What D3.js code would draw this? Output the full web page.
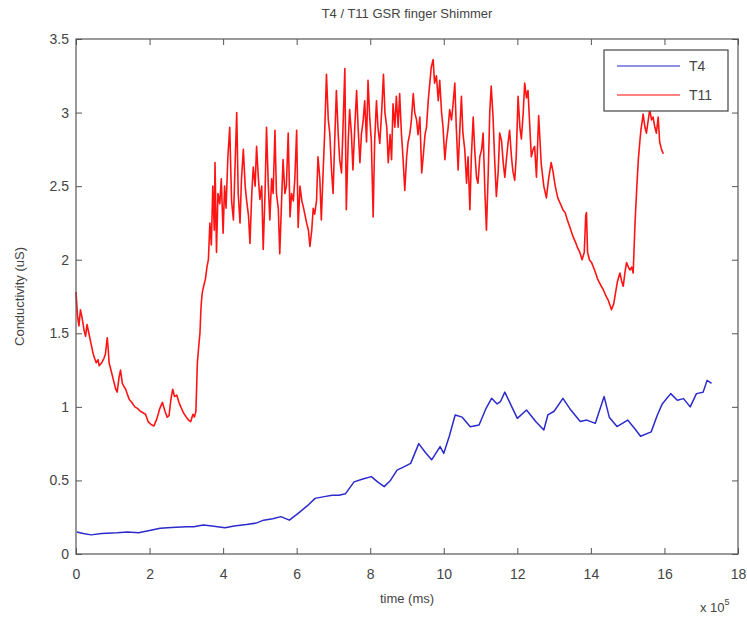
<!DOCTYPE html>
<html>
<head>
<meta charset="utf-8">
<script src="https://cdn.jsdelivr.net/npm/d3@7"></script>
<style>
  body { margin: 0; background: #fff; }
  text { font-family: "Liberation Sans", Arial, sans-serif; fill: #444; }
</style>
</head>
<body>
<div id="chart"></div>
<script>
// time in units of 10^5 ms, conductivity in uS
var t4 = [[0.02,0.15],[0.2,0.14],[0.41,0.13],[0.7,0.14],[1.12,0.145],[1.4,0.15],[1.7,0.145],[2.0,0.16],[2.29,0.175],[2.6,0.18],[3.0,0.186],[3.2,0.185],[3.46,0.197],[3.7,0.19],[4.05,0.179],[4.3,0.19],[4.63,0.2],[4.9,0.21],[5.1,0.23],[5.35,0.24],[5.57,0.254],[5.8,0.23],[6.04,0.276],[6.3,0.33],[6.5,0.378],[6.75,0.39],[6.97,0.4],[7.15,0.4],[7.33,0.41],[7.56,0.49],[7.8,0.51],[8.03,0.526],[8.2,0.49],[8.38,0.458],[8.55,0.5],[8.73,0.57],[8.9,0.59],[9.1,0.616],[9.32,0.75],[9.5,0.69],[9.67,0.64],[9.9,0.73],[10.0,0.684],[10.15,0.8],[10.31,0.945],[10.5,0.93],[10.72,0.865],[10.96,0.877],[11.15,0.99],[11.3,1.058],[11.45,1.02],[11.54,1.035],[11.66,1.1],[11.85,1.0],[12.0,0.922],[12.25,0.979],[12.5,0.9],[12.72,0.843],[12.83,0.945],[13.0,0.97],[13.24,1.058],[13.45,0.98],[13.71,0.9],[13.89,0.91],[14.12,0.888],[14.36,1.07],[14.5,0.93],[14.71,0.866],[15.0,0.91],[15.2,0.85],[15.35,0.8],[15.64,0.83],[15.8,0.94],[15.94,1.02],[16.17,1.09],[16.35,1.045],[16.52,1.056],[16.7,1.0],[16.87,1.09],[17.05,1.1],[17.16,1.18],[17.28,1.16]];

var t11 = [[0,1.78],[0.04,1.62],[0.08,1.55],[0.12,1.66],[0.17,1.6],[0.22,1.52],[0.26,1.48],[0.3,1.56],[0.35,1.5],[0.4,1.44],[0.45,1.38],[0.49,1.34],[0.55,1.3],[0.6,1.32],[0.63,1.28],[0.7,1.3],[0.76,1.33],[0.8,1.36],[0.85,1.47],[0.88,1.38],[0.9,1.3],[0.96,1.24],[1.02,1.18],[1.08,1.12],[1.12,1.1],[1.17,1.2],[1.21,1.25],[1.26,1.16],[1.3,1.14],[1.35,1.12],[1.39,1.09],[1.45,1.05],[1.52,1.03],[1.6,1.0],[1.67,0.99],[1.75,0.97],[1.82,0.96],[1.89,0.95],[1.96,0.9],[2.04,0.88],[2.12,0.87],[2.2,0.92],[2.28,0.99],[2.35,1.03],[2.42,0.97],[2.48,0.93],[2.53,0.94],[2.58,1.05],[2.63,1.12],[2.68,1.07],[2.74,1.08],[2.8,1.03],[2.85,1.0],[2.92,0.96],[3.0,0.93],[3.06,0.91],[3.12,0.9],[3.18,0.95],[3.22,0.93],[3.26,0.97],[3.3,1.3],[3.34,1.42],[3.37,1.5],[3.4,1.68],[3.43,1.77],[3.47,1.82],[3.52,1.87],[3.56,1.95],[3.6,2.0],[3.64,2.25],[3.68,2.1],[3.72,2.5],[3.76,2.2],[3.78,2.66],
[3.82,2.05],[3.86,2.45],[3.91,2.38],[3.95,2.55],[4.0,2.18],[4.04,2.5],[4.08,2.35],[4.13,2.7],[4.18,2.9],[4.23,2.4],[4.28,2.27],[4.32,2.6],[4.37,3.0],[4.41,2.45],[4.46,2.25],[4.5,2.55],[4.55,2.75],[4.6,2.5],[4.64,2.4],[4.69,2.3],[4.73,2.11],[4.78,2.45],[4.82,2.63],[4.87,2.5],[4.91,2.77],[4.96,2.55],[5.0,2.41],[5.05,2.5],[5.09,2.07],[5.14,2.45],[5.18,2.9],[5.23,2.5],[5.27,2.27],[5.32,2.55],[5.36,2.45],[5.41,2.88],[5.45,2.45],[5.5,2.35],[5.54,2.04],[5.59,2.4],[5.63,2.68],[5.68,2.45],[5.72,2.5],[5.77,2.86],[5.82,2.29],[5.86,2.45],[5.91,2.4],[5.95,2.55],[6.0,2.88],[6.04,2.22],[6.09,2.5],[6.14,2.4],[6.18,2.36],[6.23,2.3],[6.27,2.25],[6.32,2.2],[6.36,2.09],[6.41,2.2],[6.45,2.35],[6.49,2.31],[6.54,2.4],[6.58,2.7],[6.63,2.55],[6.67,2.27],[6.72,2.6],[6.76,2.85],
[6.81,3.26],[6.86,2.95],[6.9,2.86],[6.95,2.6],[6.99,2.45],[7.04,2.85],[7.08,3.15],[7.13,2.85],[7.17,2.68],[7.22,2.59],[7.26,2.9],[7.31,3.3],[7.35,2.34],[7.4,2.8],[7.44,3.02],[7.49,2.85],[7.53,2.61],[7.58,2.9],[7.63,3.15],[7.67,2.9],[7.72,2.66],[7.76,2.85],[7.81,2.95],[7.85,3.08],[7.9,2.8],[7.94,3.22],[7.99,2.95],[8.03,2.81],[8.08,2.29],[8.12,2.8],[8.17,3.08],[8.21,2.9],[8.26,2.79],[8.31,3.0],[8.36,3.26],[8.4,3.0],[8.45,2.9],[8.49,2.66],[8.54,2.85],[8.58,2.68],[8.62,3.06],[8.67,2.9],[8.71,3.11],[8.76,2.9],[8.8,3.13],[8.85,2.85],[8.89,2.7],[8.94,2.47],[8.99,2.7],[9.03,2.8],[9.08,2.86],[9.12,2.95],[9.17,3.13],[9.21,3.0],[9.26,2.95],[9.3,2.85],[9.35,2.97],[9.4,2.59],[9.44,2.7],[9.49,2.85],[9.53,2.9],[9.58,3.09],[9.62,3.2],[9.66,3.31],[9.71,3.36],[9.75,3.2],[9.8,3.25],[9.85,3.08],[9.89,3.22],[9.94,3.0],[9.98,2.9],
[10.03,2.68],[10.07,2.8],[10.12,2.9],[10.16,3.02],[10.21,2.95],[10.25,3.05],[10.3,3.2],[10.34,2.9],[10.39,2.61],[10.43,2.85],[10.48,3.11],[10.52,2.86],[10.57,2.75],[10.62,2.52],[10.66,2.7],[10.71,2.34],[10.75,2.7],[10.8,2.97],[10.84,2.75],[10.89,2.56],[10.93,2.52],[10.98,2.7],[11.03,2.75],[11.07,2.86],[11.12,2.45],[11.16,2.2],[11.21,2.6],[11.25,3.0],[11.29,3.18],[11.34,2.97],[11.38,2.7],[11.43,2.43],[11.48,2.6],[11.52,2.86],[11.57,2.81],[11.62,2.65],[11.66,2.56],[11.71,2.7],[11.75,2.8],[11.79,2.88],[11.84,2.7],[11.88,2.6],[11.93,2.54],[11.97,2.7],[12.02,3.11],[12.07,2.9],[12.11,2.82],[12.16,3.0],[12.2,3.2],[12.25,3.1],[12.29,3.15],[12.34,2.9],[12.38,2.7],[12.43,2.75],[12.47,2.77],[12.52,2.56],[12.58,2.98],[12.65,2.65],[12.72,2.5],[12.79,2.42],[12.85,2.55],[12.92,2.66],[12.97,2.6],[13.03,2.5],[13.1,2.42],[13.17,2.38],[13.24,2.34],[13.3,2.32],[13.36,2.27],[13.43,2.22],[13.51,2.16],[13.58,2.12],[13.64,2.08],[13.7,2.05],[13.76,2.0],[13.82,2.05],[13.86,2.3],[13.88,2.32],[13.91,2.05],[13.96,2.0],[14.02,1.98],[14.1,1.93],[14.18,1.87],[14.26,1.83],[14.33,1.8],[14.4,1.76],[14.48,1.72],[14.56,1.66],[14.62,1.7],[14.66,1.76],[14.72,1.85],[14.79,1.91],[14.84,1.85],[14.88,1.82],[14.93,1.92],[14.97,1.98],[15.02,1.95],[15.06,1.93],[15.11,1.95],[15.15,1.91],[15.2,2.25],[15.25,2.5],[15.29,2.68],[15.33,2.8],[15.36,2.88],[15.4,2.95],[15.42,2.99],[15.47,2.9],[15.51,2.86],[15.56,2.95],[15.6,3.02],[15.65,2.95],[15.69,2.97],[15.74,2.9],[15.78,2.86],[15.83,2.97],[15.87,2.8],[15.92,2.75],[15.97,2.72]];

var xTicks = [0, 2, 4, 6, 8, 10, 12, 14, 16, 18];
var yTicks = [0, 0.5, 1, 1.5, 2, 2.5, 3, 3.5];
var seriesNames = ["T4", "T11"];
var seriesColors = ["#2b2bcc", "#ff1414"];

var width = 747, height = 619;
var plotLeft = 76, plotRight = 738, plotTop = 39, plotBottom = 554;
var tickLen = 6;

var svg = d3.select("#chart").append("svg")
  .attr("width", width)
  .attr("height", height);

var xScale = d3.scaleLinear().domain([0, 18]).range([plotLeft, plotRight]);
var yScale = d3.scaleLinear().domain([0, 3.5]).range([plotBottom, plotTop]);

/* lines */
var line = d3.line()
  .x(d => xScale(d[0]))
  .y(d => yScale(d[1]));

svg.append("path")
  .datum(t4)
  .attr("d", line)
  .attr("fill", "none")
  .attr("stroke", seriesColors[0])
  .attr("stroke-width", 1.5)
  .attr("stroke-linejoin", "round");

svg.append("path")
  .datum(t11)
  .attr("d", line)
  .attr("fill", "none")
  .attr("stroke", seriesColors[1])
  .attr("stroke-width", 1.6)
  .attr("stroke-linejoin", "round");

/* axes, MATLAB style: box with inward ticks on every side */
var axisColor = "#555";
var fmt = d3.format("~g");

svg.append("g")
  .attr("transform", `translate(0, ${plotBottom})`)
  .call(d3.axisBottom(xScale).tickValues(xTicks).tickSize(-tickLen).tickPadding(15).tickFormat(fmt))
  .call(g => g.select(".domain").remove());

svg.append("g")
  .attr("transform", `translate(0, ${plotTop})`)
  .call(d3.axisTop(xScale).tickValues(xTicks).tickSize(-tickLen).tickFormat(""))
  .call(g => g.select(".domain").remove());

svg.append("g")
  .attr("transform", `translate(${plotLeft}, 0)`)
  .call(d3.axisLeft(yScale).tickValues(yTicks).tickSize(-tickLen).tickPadding(7).tickFormat(fmt))
  .call(g => g.select(".domain").remove());

svg.append("g")
  .attr("transform", `translate(${plotRight}, 0)`)
  .call(d3.axisRight(yScale).tickValues(yTicks).tickSize(-tickLen).tickFormat(""))
  .call(g => g.select(".domain").remove());

svg.selectAll(".tick line").attr("stroke", axisColor);
svg.selectAll(".tick text")
  .style("font-size", "14px")
  .attr("fill", "#444");

svg.append("rect")
  .attr("x", plotLeft)
  .attr("y", plotTop)
  .attr("width", plotRight - plotLeft)
  .attr("height", plotBottom - plotTop)
  .attr("fill", "none")
  .attr("stroke", axisColor)
  .attr("stroke-width", 1.2);

/* titles */
svg.append("text")
  .attr("x", (plotLeft + plotRight) / 2)
  .attr("y", 18)
  .attr("text-anchor", "middle")
  .style("font-size", "13px")
  .text("T4 / T11 GSR finger Shimmer");

svg.append("text")
  .attr("x", (plotLeft + plotRight) / 2)
  .attr("y", 603)
  .attr("text-anchor", "middle")
  .style("font-size", "13px")
  .text("time (ms)");

var mult = svg.append("text")
  .attr("x", 700)
  .attr("y", 612)
  .style("font-size", "13px");
mult.append("tspan").text("x 10");
mult.append("tspan").attr("dy", -7).style("font-size", "9px").text("5");

svg.append("text")
  .attr("transform", `translate(24, ${(plotTop + plotBottom) / 2}) rotate(-90)`)
  .attr("text-anchor", "middle")
  .style("font-size", "13px")
  .text("Conductivity (uS)");

/* legend */
var legend = svg.append("g");
legend.append("rect")
  .attr("x", 604)
  .attr("y", 50)
  .attr("width", 124)
  .attr("height", 61)
  .attr("fill", "#fff")
  .attr("stroke", "#444")
  .attr("stroke-width", 1.2);

seriesNames.forEach(function(name, i) {
  var ly = 66 + i * 29;
  legend.append("line")
    .attr("x1", 617).attr("x2", 680)
    .attr("y1", ly).attr("y2", ly)
    .attr("stroke", seriesColors[i])
    .attr("stroke-opacity", 0.7)
    .attr("stroke-width", 1.3);
  legend.append("text")
    .attr("x", 689)
    .attr("y", ly + 5)
    .style("font-size", "14px")
    .text(name);
});
</script>
</body>
</html>
